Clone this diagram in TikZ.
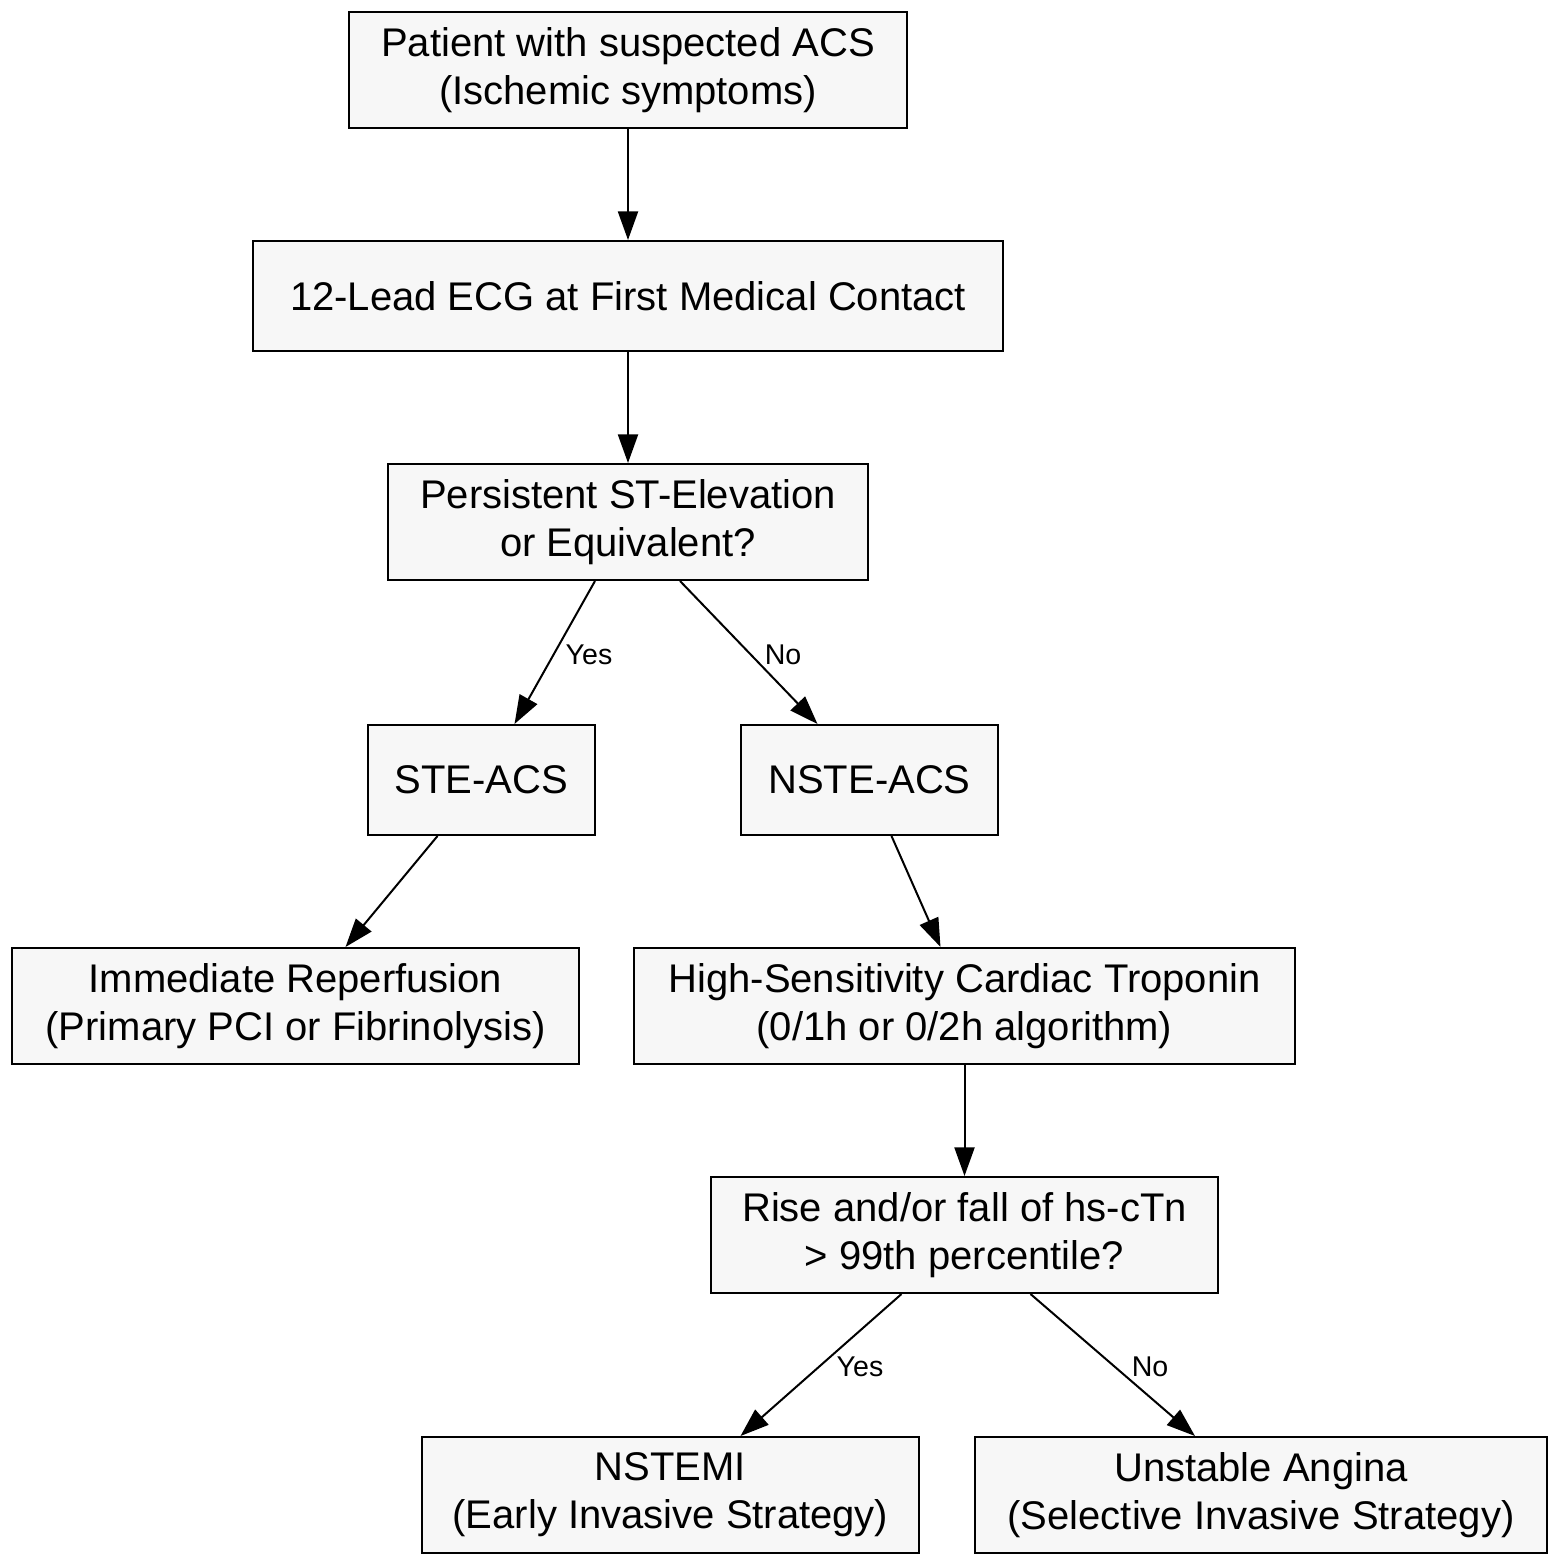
\documentclass[tikz,border=0pt]{standalone}
\usepackage{fontspec}
\setmainfont{Liberation Sans}
\usetikzlibrary{arrows.meta,calc}
\begin{document}
\begin{tikzpicture}
            [x=0.35pt,y=-0.35pt,line width=0.7pt,
             box/.style={draw,fill=black!3,align=center,inner sep=0pt,font=\fontsize{14}{16.8}\selectfont},
             h1/.style={minimum height=116*0.35pt},
             h2/.style={minimum height=110*0.35pt},
             edge/.style={-{Triangle[length=10pt,width=7pt]}},
             lbl/.style={font=\fontsize{10}{12}\selectfont,inner sep=1pt}]
            \useasboundingbox (0,0) rectangle (1559,1566);
            \node[box,h1,minimum width=558*0.35pt] (start) at (628,70) {Patient with suspected ACS\\(Ischemic symptoms)};
            \node[box,h2,minimum width=750*0.35pt] (ecg) at (628,296) {12-Lead ECG at First Medical Contact};
            \node[box,h1,minimum width=480*0.35pt] (st) at (628,522) {Persistent ST-Elevation\\or Equivalent?};
            \node[box,h2,minimum width=227*0.35pt] (ste) at (481.5,780) {STE-ACS};
            \node[box,h2,minimum width=257*0.35pt] (nste) at (869.5,780) {NSTE-ACS};
            \node[box,h1,minimum width=567*0.35pt] (reperf) at (295.5,1006) {Immediate Reperfusion\\(Primary PCI or Fibrinolysis)};
            \node[box,h1,minimum width=661*0.35pt] (trop) at (964.5,1006) {High-Sensitivity Cardiac Troponin\\(0/1h or 0/2h algorithm)};
            \node[box,h1,minimum width=507*0.35pt] (rise) at (964.5,1235) {Rise and/or fall of hs-cTn\\> 99th percentile?};
            \node[box,h1,minimum width=497*0.35pt] (nstemi) at (670.5,1495) {NSTEMI\\(Early Invasive Strategy)};
            \node[box,h1,minimum width=572*0.35pt] (ua) at (1261,1495) {Unstable Angina\\(Selective Invasive Strategy)};
            % main line
            \draw[edge] (start) -- (ecg);
            \draw[edge] (ecg) -- (st);
            % ST decision
            \draw[edge] ($(st.south)+(-33,0)$) -- ($(ste.north)+(33,0)$);
            \draw[edge] ($(st.south)+(52,0)$) -- ($(nste.north)+(-52,0)$);
            \node[lbl] (yes1) at (589,655) {Yes};
            \node[lbl] (no1) at (783,655) {No};
            \draw[edge] ($(ste.south)+(-44,0)$) -- ($(reperf.north)+(50,0)$);
            \draw[edge] ($(nste.south)+(22,0)$) -- ($(trop.north)+(-24,0)$);
            \draw[edge] (trop) -- (rise);
            % troponin decision
            \draw[edge] ($(rise.south)+(-63,0)$) -- ($(nstemi.north)+(70,0)$);
            \draw[edge] ($(rise.south)+(66,0)$) -- ($(ua.north)+(-66,0)$);
            \node[lbl] (yes2) at (860,1367) {Yes};
            \node[lbl] (no2) at (1150,1367) {No};
        \end{tikzpicture}
\end{document}
